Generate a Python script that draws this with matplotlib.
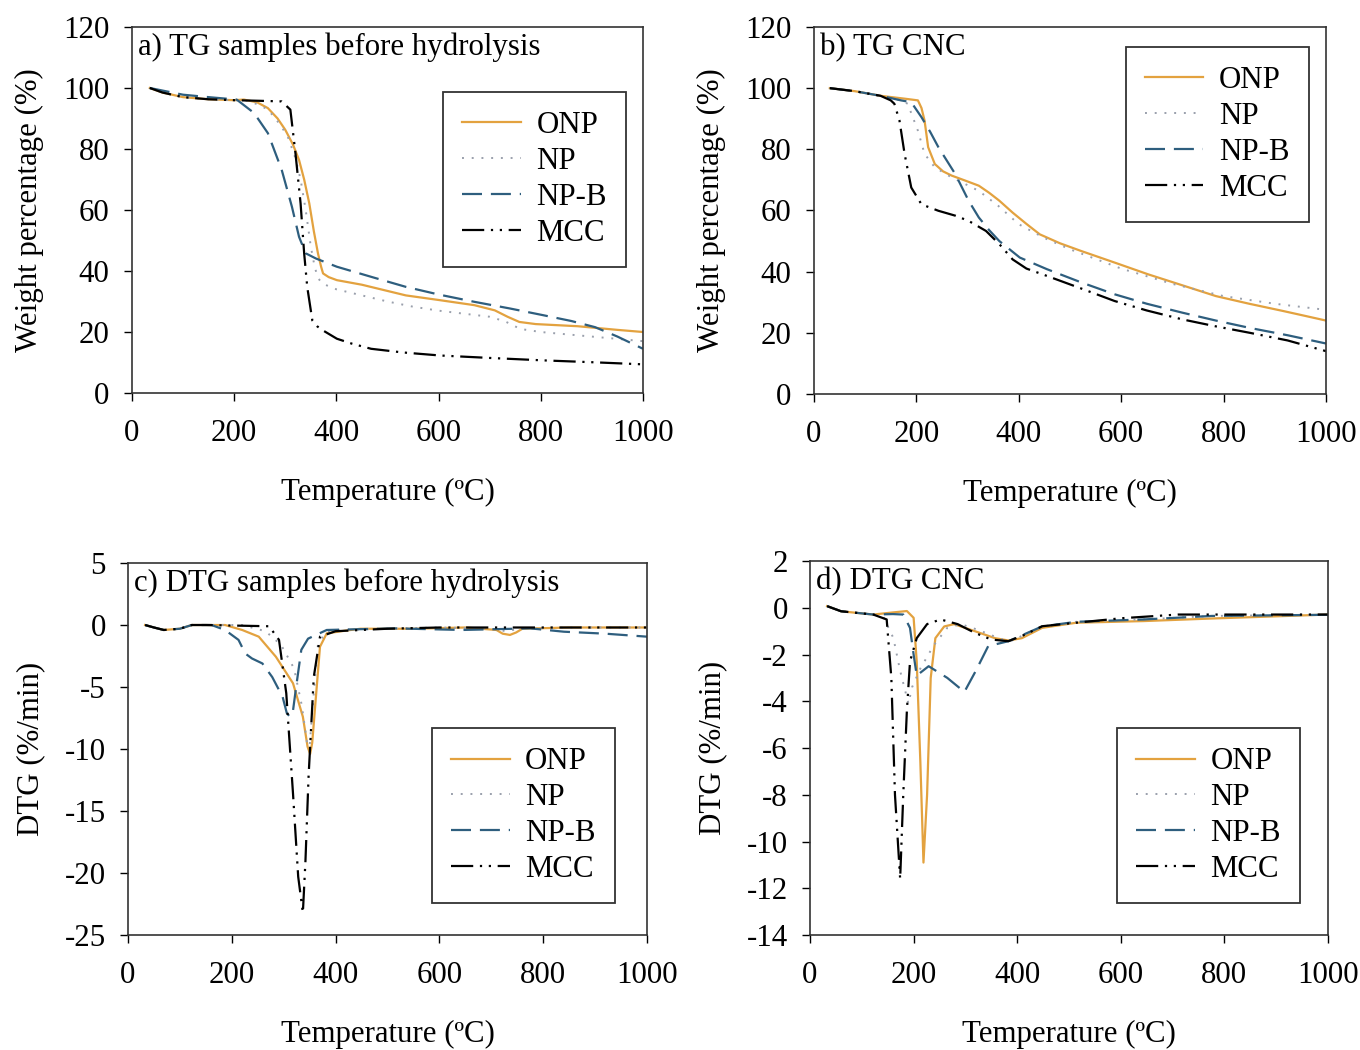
import numpy as np
import matplotlib
matplotlib.use("Agg")
import matplotlib.pyplot as plt

plt.rcParams['font.family'] = ['Liberation Serif', 'DejaVu Serif']
plt.rcParams['font.size'] = 22.2
plt.rcParams['axes.unicode_minus'] = False

labels = ["ONP", "NP", "NP-B", "MCC"]

# a) TG samples before hydrolysis
onp_a_x = [35, 60, 100, 150, 200, 219, 245, 266, 285, 300, 315, 327, 337, 347, 356, 364, 370, 374, 385, 401, 450, 536, 600, 670, 710, 735, 758, 790, 872, 950, 1000]
onp_a_y = [100, 98.5, 97, 96.3, 96, 96.2, 95.3, 93.4, 90, 86.3, 81.5, 76.4, 70, 62.2, 53, 45.8, 41.5, 39.2, 38, 37, 35.5, 32, 30.5, 28.8, 27.1, 25, 23.3, 22.6, 21.9, 20.7, 20]
np_a_x = [35, 60, 100, 150, 200, 230, 266, 290, 305, 320, 330, 340, 350, 358, 365, 372, 385, 400, 450, 500, 550, 600, 650, 700, 730, 760, 800, 900, 1000]
np_a_y = [100, 98.5, 97, 96.3, 96, 95.8, 93, 88, 84, 77, 70, 60, 48, 41, 37.5, 36, 35, 34, 32, 30, 28.3, 27, 26, 25, 23.5, 21, 20, 18.5, 17]
npb_a_x = [35, 100, 150, 205, 239, 266, 293, 313, 327, 340, 360, 401, 470, 536, 600, 670, 740, 805, 860, 906, 950, 1000]
npb_a_y = [100, 97.8, 97, 96.2, 91.8, 85.2, 73.2, 61.1, 51.2, 45.8, 44.1, 41.4, 38, 34.8, 32.3, 29.9, 27.7, 25.5, 23.6, 21.6, 18.5, 14.5]
mcc_a_x = [35, 60, 100, 150, 200, 250, 293, 310, 320, 330, 337, 343, 353, 363, 374, 401, 430, 468, 530, 603, 700, 805, 900, 1000]
mcc_a_y = [100, 98.5, 97, 96.3, 96, 95.8, 95.6, 92.9, 78.6, 62.2, 45.8, 34.8, 23.8, 21.8, 20.5, 17.8, 16.2, 14.5, 13.3, 12.3, 11.5, 10.7, 10.1, 9.4]

# b) TG CNC
onp_b_x = [31, 80, 130, 180, 203, 210, 216, 223, 236, 252, 269, 295, 322, 342, 362, 388, 415, 441, 480, 521, 590, 653, 720, 785, 850, 917, 960, 1000]
onp_b_y = [100, 99, 97.5, 96.5, 96, 93.5, 89.4, 80.7, 75.2, 72.8, 71.4, 69.8, 68.1, 65.8, 63.2, 59.3, 55.6, 52.2, 49.3, 46.8, 42.8, 39.1, 35.5, 32, 29.5, 27.1, 25.5, 24]
np_b_x = [31, 80, 130, 170, 183, 193, 203, 216, 236, 265, 322, 360, 400, 450, 500, 600, 700, 800, 900, 1000]
np_b_y = [100, 99, 97.5, 96, 94.9, 90.5, 86.1, 78.5, 74.1, 71.2, 66.4, 61.5, 55.5, 51, 47.3, 41, 36, 32, 29.5, 27.5]
npb_b_x = [31, 80, 130, 170, 190, 210, 227, 243, 276, 302, 322, 342, 362, 402, 455, 520, 587, 650, 719, 785, 851, 925, 1000]
npb_b_y = [100, 99, 97.5, 96, 95.4, 90.5, 85.7, 80.7, 71.9, 63.2, 57.7, 53.6, 50, 44.6, 40.8, 36.6, 32.6, 29.5, 26.6, 24, 21.6, 19.2, 16.5]
mcc_b_x = [31, 80, 130, 150, 157, 167, 177, 190, 210, 243, 276, 302, 336, 362, 388, 415, 455, 520, 587, 650, 719, 785, 851, 925, 1000]
mcc_b_y = [100, 99, 97.5, 96, 94.9, 89.4, 78.5, 67.5, 62, 59.9, 58.3, 56.6, 53.3, 49, 44, 41, 38.6, 34.6, 30.4, 27.3, 24.4, 22.1, 20, 17.5, 14]

# c) DTG samples before hydrolysis
onp_c_x = [33, 50, 69, 100, 123, 150, 187, 220, 252, 285, 318, 337, 346, 351, 355, 360, 370, 383, 420, 448, 550, 650, 710, 722, 736, 748, 760, 850, 1000]
onp_c_y = [0, -0.2, -0.4, -0.3, 0, 0, 0, -0.4, -0.94, -2.56, -4.7, -7.4, -9.8, -10.4, -9.5, -6.9, -1.75, -0.67, -0.45, -0.3, -0.3, -0.2, -0.4, -0.7, -0.8, -0.6, -0.3, -0.2, -0.2]
np_c_x = [33, 50, 69, 100, 123, 150, 220, 265, 295, 320, 335, 345, 350, 357, 366, 380, 400, 500, 600, 700, 728, 755, 850, 1000]
np_c_y = [0, -0.2, -0.4, -0.3, 0, 0, 0, -0.5, -1.6, -3.5, -6.5, -9.5, -9.8, -6, -1.6, -0.6, -0.4, -0.3, -0.2, -0.3, -0.5, -0.3, -0.2, -0.2]
npb_c_x = [33, 50, 69, 100, 123, 150, 161, 187, 213, 226, 239, 259, 278, 298, 306, 312, 318, 324, 334, 347, 383, 514, 644, 775, 840, 920, 1000]
npb_c_y = [0, -0.2, -0.4, -0.3, 0, 0, 0, -0.4, -1.2, -2.3, -2.7, -3.1, -4.2, -5.8, -7.1, -7.4, -6.9, -5, -2, -1.1, -0.4, -0.27, -0.4, -0.27, -0.54, -0.7, -0.94]
mcc_c_x = [33, 50, 69, 100, 123, 150, 272, 291, 305, 318, 328, 337, 342, 348, 358, 370, 400, 500, 600, 700, 800, 1000]
mcc_c_y = [0, -0.2, -0.4, -0.3, 0, 0, -0.1, -1.2, -5.5, -13.6, -20.3, -23.2, -19, -12.2, -4.2, -0.94, -0.5, -0.3, -0.2, -0.2, -0.2, -0.2]

# d) DTG CNC
onp_d_x = [33, 60, 122, 160, 187, 200, 206, 213, 219, 226, 233, 242, 259, 278, 318, 357, 383, 409, 448, 514, 644, 775, 1000]
onp_d_y = [0.07, -0.15, -0.29, -0.2, -0.14, -0.43, -2.3, -6.6, -10.9, -8, -3, -1.3, -0.8, -0.7, -1, -1.3, -1.4, -1.3, -0.86, -0.64, -0.57, -0.46, -0.29]
np_d_x = [33, 60, 122, 141, 161, 174, 190, 197, 213, 239, 265, 291, 325, 370, 390, 448, 514, 644, 775, 1000]
np_d_y = [0.07, -0.15, -0.29, -0.36, -1.3, -2.7, -4.1, -3.4, -2.6, -1.6, -0.86, -0.7, -0.95, -1.35, -1.4, -0.8, -0.6, -0.5, -0.35, -0.3]
npb_d_x = [33, 60, 122, 160, 180, 193, 200, 206, 229, 265, 298, 320, 344, 383, 448, 514, 644, 775, 1000]
npb_d_y = [0.07, -0.15, -0.29, -0.27, -0.29, -0.86, -2, -2.9, -2.5, -3, -3.6, -2.7, -1.64, -1.43, -0.8, -0.6, -0.5, -0.35, -0.3]
mcc_d_x = [33, 60, 122, 148, 157, 164, 174, 180, 187, 193, 206, 226, 252, 285, 318, 350, 383, 416, 448, 514, 600, 710, 1000]
mcc_d_y = [0.07, -0.15, -0.29, -0.5, -3, -8, -11.6, -8, -4.4, -2.3, -1.3, -0.7, -0.5, -0.7, -1.07, -1.36, -1.43, -1.14, -0.79, -0.64, -0.45, -0.29, -0.29]

styles = [
    dict(color="#E3A23F", ls="-", lw=1.6),
    dict(color="#9AA0AC", ls=(0, (1, 4)), lw=1.4),
    dict(color="#2E5E7E", ls=(0, (9, 4)), lw=1.6),
    dict(color="black", ls=(0, (10, 3, 1, 3, 1, 3)), lw=1.6),
]

panels = [
    dict(pos=[0.097, 0.6257, 0.3758, 0.3486], title="a) TG samples before hydrolysis",
         data=[(onp_a_x, onp_a_y), (np_a_x, np_a_y), (npb_a_x, npb_a_y), (mcc_a_x, mcc_a_y)],
         ylim=(0, 120), yticks=np.arange(0, 121, 20), ylabel="Weight percentage (%)",
         leg=(0.609, 0.822)),
    dict(pos=[0.5985, 0.6248, 0.3765, 0.3495], title="b) TG CNC",
         data=[(onp_b_x, onp_b_y), (np_b_x, np_b_y), (npb_b_x, npb_b_y), (mcc_b_x, mcc_b_y)],
         ylim=(0, 120), yticks=np.arange(0, 121, 20), ylabel="Weight percentage (%)",
         leg=(0.609, 0.945)),
    dict(pos=[0.0941, 0.1095, 0.3816, 0.3543], title="c) DTG samples before hydrolysis",
         data=[(onp_c_x, onp_c_y), (np_c_x, np_c_y), (npb_c_x, npb_c_y), (mcc_c_x, mcc_c_y)],
         ylim=(-25, 5), yticks=np.arange(-25, 6, 5), ylabel="DTG (%/min)",
         leg=(0.586, 0.556)),
    dict(pos=[0.5956, 0.1095, 0.3809, 0.3562], title="d) DTG CNC",
         data=[(onp_d_x, onp_d_y), (np_d_x, np_d_y), (npb_d_x, npb_d_y), (mcc_d_x, mcc_d_y)],
         ylim=(-14, 2), yticks=np.arange(-14, 3, 2), ylabel="DTG (%/min)",
         leg=(0.593, 0.553)),
]

fig = plt.figure(figsize=(13.6, 10.5), dpi=100)

for p in panels:
    ax = fig.add_axes(p["pos"])
    for (x, y), lab, st in zip(p["data"], labels, styles):
        ax.plot(x, y, label=lab, **st)
    ax.set_xlim(0, 1000)
    ax.set_ylim(*p["ylim"])
    ax.set_xticks(np.arange(0, 1001, 200))
    ax.set_yticks(p["yticks"])
    ax.tick_params(direction="out", length=6, width=1, pad=10)
    ax.tick_params(axis="x", pad=13)
    for s in ax.spines.values():
        s.set_linewidth(1.2)
        s.set_color("#333333")
    ax.set_xlabel("Temperature (ºC)", labelpad=21)
    ax.set_ylabel(p["ylabel"], labelpad=14)
    ax.text(0.012, 0.985, p["title"], transform=ax.transAxes, ha="left", va="top")
    leg = ax.legend(loc="upper left", bbox_to_anchor=p["leg"], frameon=True, fancybox=False,
                    edgecolor="black", handlelength=1.9, handletextpad=0.5,
                    labelspacing=0.22, borderpad=0.62, borderaxespad=0)
    leg.get_frame().set_linewidth(1.3)

fig.savefig("out.png", dpi=100, facecolor="white")
